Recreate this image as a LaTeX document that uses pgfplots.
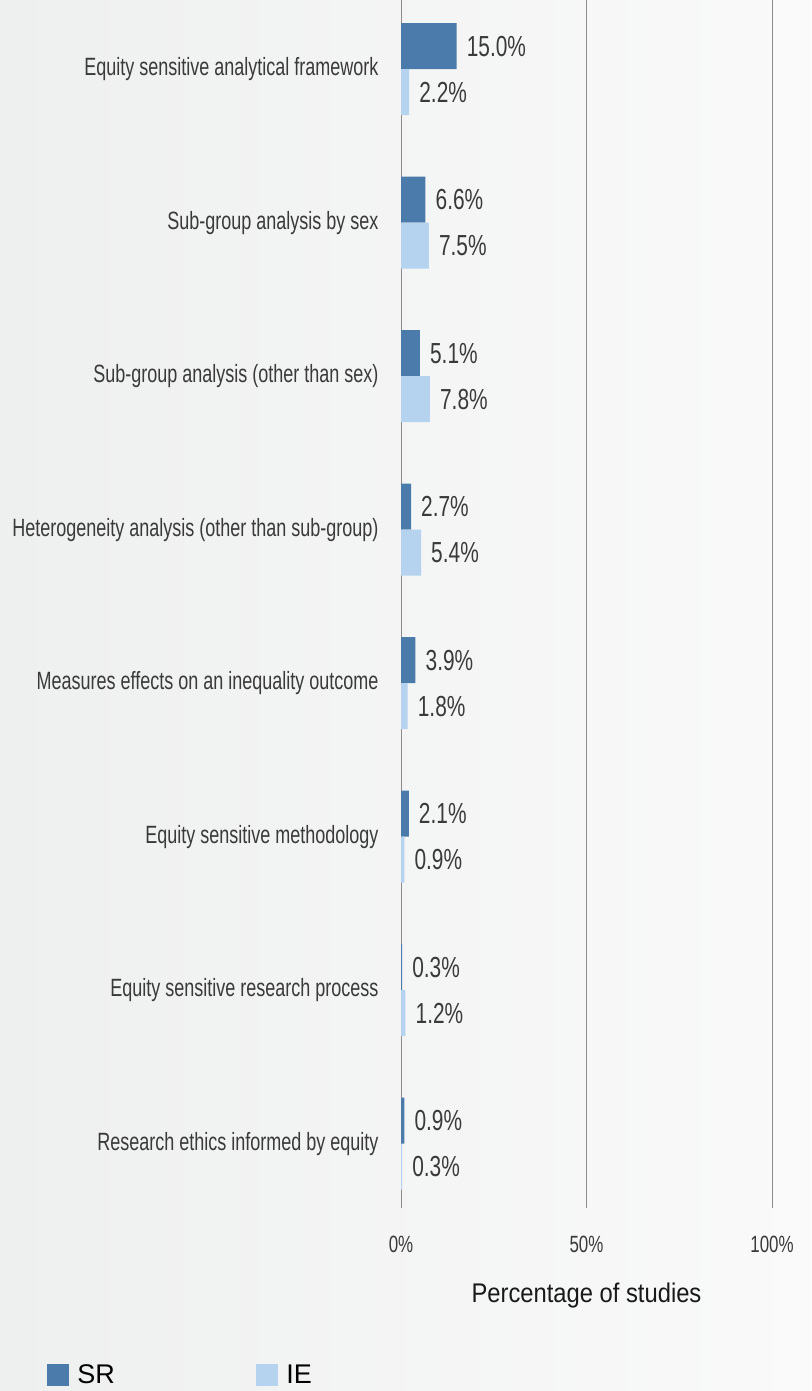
\documentclass[border=0pt]{standalone}
\usepackage{fontspec}
\setmainfont{Liberation Sans}
\newfontfamily\cond[FakeStretch=0.72]{Liberation Sans}
\newfontfamily\semicond[FakeStretch=0.88]{Liberation Sans}
\usepackage{pgfplots}
\pgfplotsset{compat=1.18}
\usepackage{pgfplotstable}
\definecolor{srblue}{HTML}{4A7BAB}
\definecolor{ieblue}{HTML}{B5D3EF}
\definecolor{txt}{HTML}{3A3A3A}
\definecolor{bgl}{HTML}{EEEFEF}
\definecolor{bgr}{HTML}{FAFAFA}
\definecolor{gridc}{HTML}{8C8C8C}

\pgfplotstableread[col sep=comma]{
idx,SR,IE
0,15.0,2.2
1,6.6,7.5
2,5.1,7.8
3,2.7,5.4
4,3.9,1.8
5,2.1,0.9
6,0.3,1.2
7,0.9,0.3
}\datatable

\begin{document}
\begin{tikzpicture}[x=1pt,y=1pt]
\shade[left color=bgl, right color=bgr] (0,0) rectangle (811,1391);
\begin{axis}[
  at={(401pt,183pt)}, anchor=south west,
  scale only axis, width=371pt, height=1208pt,
  xbar, bar width=46pt,
  xmin=0, xmax=100,
  ymin=-0.45, ymax=7.42, y dir=reverse,
  axis line style={draw=none},
  tick style={draw=none},
  xmajorgrids, major grid style={gridc, line width=0.8pt},
  xtick={0,50,100}, xticklabels={0\%,50\%,100\%},
  xticklabel style={font=\cond\fontsize{23.5}{26}\selectfont, text=txt, inner sep=0pt, anchor=north, yshift=-28pt},
  ytick={0,...,7},
  yticklabels={Equity sensitive analytical framework,Sub-group analysis by sex,Sub-group analysis (other than sex),Heterogeneity analysis (other than sub-group),Measures effects on an inequality outcome,Equity sensitive methodology,Equity sensitive research process,Research ethics informed by equity},
  yticklabel style={font=\cond\fontsize{25}{28}\selectfont, text=txt, inner sep=0pt, anchor=east, xshift=-18pt},
  xlabel={Percentage of studies},
  xlabel style={at={(axis description cs:0.5,0)}, anchor=north, inner sep=0pt, yshift=-75pt, font=\semicond\fontsize{27}{30}\selectfont, text=black!90},
  /pgf/number format/assume math mode=true,
  nodes near coords={\pgfmathprintnumber[fixed,fixed zerofill,precision=1,assume math mode=true]{\pgfplotspointmeta}\%},
  nodes near coords align=horizontal,
  every node near coord/.append style={font=\cond\fontsize{29}{32}\selectfont, text=txt, anchor=west, inner sep=0pt, xshift=10pt},
  point meta=x,
  legend image code/.code={\fill[#1] (0pt,-11pt) rectangle (22pt,11pt);},
  legend style={at={(axis description cs:-0.954,-0.138)}, anchor=west, draw=none, fill=none, legend columns=2, inner sep=0pt, font=\fontsize{27}{30}\selectfont, nodes={inner sep=0pt}, /tikz/every odd column/.append style={column sep=8pt}},
  clip=false,
]
\addplot[fill=srblue, draw=none, bar shift=23pt] table[x=SR, y=idx] {\datatable};
\addlegendentry{\makebox[179pt][l]{SR}}
\addplot[fill=ieblue, draw=none, bar shift=-23pt] table[x=IE, y=idx] {\datatable};
\addlegendentry{IE}
\end{axis}
\pgfresetboundingbox
\useasboundingbox (0,0) rectangle (811,1391);
\end{tikzpicture}
\end{document}
